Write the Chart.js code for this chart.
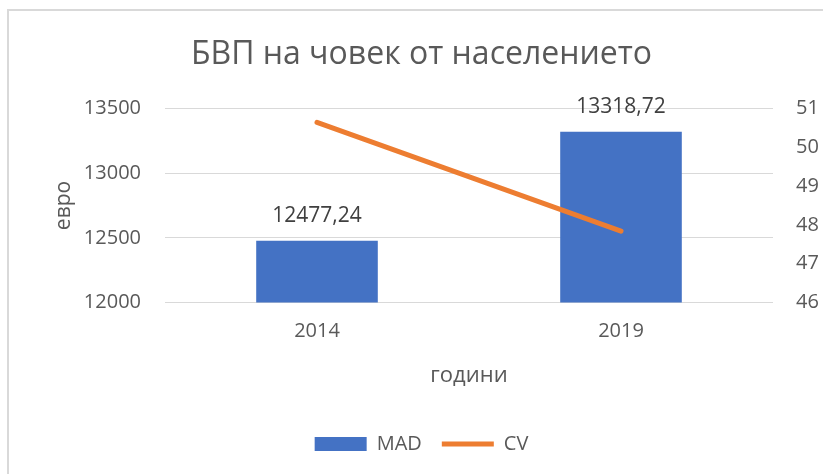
<!DOCTYPE html>
<html>
<head>
<meta charset="utf-8">
<script src="https://cdn.jsdelivr.net/npm/chart.js@4/dist/chart.umd.min.js"></script>
<style>
  body { margin: 0; background: #fff; }
  #frame { position: absolute; left: 7px; top: 9px; width: 900px; height: 500px;
    border-left: 2px solid #d9d9d9; border-top: 2px solid #d9d9d9; }
  #wrap { position: absolute; left: 0; top: 0; width: 823px; height: 474px; }
</style>
</head>
<body>
<div id="frame"></div>
<div id="wrap"><canvas id="chart"></canvas></div>
<script>
const years = ["2014", "2019"];
const madValues = [12477.24, 13318.72];
const cvValues = [50.64, 47.84];

const FONT = "'Open Sans', 'DejaVu Sans', sans-serif";
const TEXT = "#595959";

// value labels above the bars, with a decimal comma
const barLabels = {
  id: "barLabels",
  afterDatasetsDraw(chart) {
    const { ctx } = chart;
    const meta = chart.getDatasetMeta(1);
    ctx.save();
    ctx.font = "21px " + FONT;
    ctx.fillStyle = "#404040";
    ctx.textAlign = "center";
    ctx.textBaseline = "middle";
    meta.data.forEach((bar, i) => {
      const txt = madValues[i].toFixed(2).replace(".", ",");
      ctx.fillText(txt, bar.x, bar.y - 25);
    });
    ctx.restore();
  },
};

new Chart(document.getElementById("chart"), {
  data: {
    labels: years,
    datasets: [
      {
        type: "line",
        label: "CV",
        data: cvValues,
        yAxisID: "y2",
        borderColor: "#ed7d31",
        backgroundColor: "#ed7d31",
        borderWidth: 5,
        borderCapStyle: "round",
        pointRadius: 0,
        pointStyle: "line",
        order: 0,
      },
      {
        type: "bar",
        label: "MAD",
        data: madValues,
        yAxisID: "y",
        backgroundColor: "#4472c4",
        barPercentage: 0.8,
        categoryPercentage: 0.5,
        pointStyle: "rect",
        order: 1,
      },
    ],
  },
  options: {
    responsive: true,
    maintainAspectRatio: false,
    animation: false,
    layout: { padding: { left: 20, right: 0, top: 0, bottom: 10 } },
    scales: {
      x: {
        grid: { display: false, drawTicks: false },
        border: { display: false },
        ticks: { color: TEXT, font: { family: FONT, size: 20 }, padding: 17 },
        title: {
          display: true,
          text: "години",
          color: TEXT,
          font: { family: FONT, size: 22 },
          padding: { top: 2, bottom: 25 },
        },
      },
      y: {
        position: "left",
        min: 12000,
        max: 13500,
        ticks: {
          stepSize: 500,
          color: TEXT,
          font: { family: FONT, size: 20 },
          padding: 24,
          callback: (v) => String(v),
        },
        grid: { color: "#d9d9d9", drawTicks: false },
        border: { display: false },
        title: {
          display: true,
          text: "евро",
          color: TEXT,
          font: { family: FONT, size: 21 },
          padding: { top: 31, bottom: 0 },
        },
        afterFit(scale) { scale.width = 145; },
      },
      y2: {
        position: "right",
        min: 46,
        max: 51,
        ticks: { stepSize: 1, color: TEXT, font: { family: FONT, size: 20 }, padding: 23 },
        grid: { display: false, drawTicks: false },
        border: { display: false },
        afterFit(scale) { scale.width = 50; },
      },
    },
    plugins: {
      title: {
        display: true,
        text: "БВП на човек от населението",
        color: TEXT,
        font: { family: FONT, size: 32, weight: "normal" },
        padding: { top: 36, bottom: 34 },
      },
      legend: {
        position: "bottom",
        reverse: true,
        labels: {
          usePointStyle: true,
          pointStyleWidth: 52,
          boxHeight: 14,
          padding: 20,
          color: TEXT,
          font: { family: FONT, size: 20 },
        },
      },
      tooltip: { enabled: false },
    },
  },
  plugins: [barLabels],
});
</script>
</body>
</html>
